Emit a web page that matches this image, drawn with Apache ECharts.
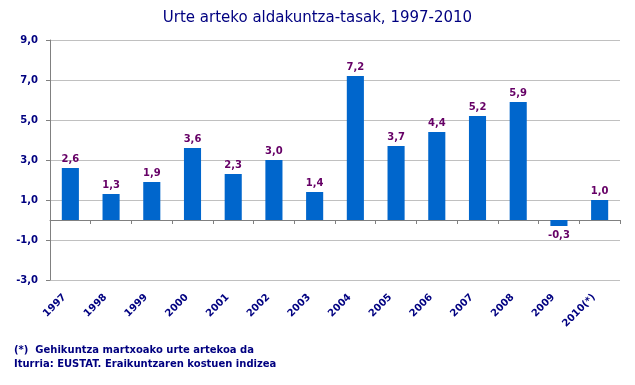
<!DOCTYPE html>
<html>
<head>
<meta charset="utf-8">
<script src="https://cdn.jsdelivr.net/npm/echarts@6/dist/echarts.min.js"></script>
<style>
html,body{margin:0;padding:0;background:#fff;}
#c{width:635px;height:385px;position:relative;}
.note{position:absolute;left:14px;font:bold 10px "DejaVu Sans",Verdana,sans-serif;color:#000080;}
</style>
</head>
<body>
<div id="c"></div>
<div class="note" style="top:344px;">(*)&nbsp; Gehikuntza martxoako urte artekoa da</div>
<div class="note" style="top:358px;">Iturria: EUSTAT. Eraikuntzaren kostuen indizea</div>
<script>
const categories = ['1997','1998','1999','2000','2001','2002','2003','2004','2005','2006','2007','2008','2009','2010(*)'];
const values = [2.6, 1.3, 1.9, 3.6, 2.3, 3.0, 1.4, 7.2, 3.7, 4.4, 5.2, 5.9, -0.3, 1.0];
const titleText = 'Urte arteko aldakuntza-tasak, 1997-2010';

const fmt = v => v.toFixed(1).replace('.', ',');
const chart = echarts.init(document.getElementById('c'), null, {renderer: 'canvas'});
const font = '"DejaVu Sans", Verdana, sans-serif';
chart.setOption({
  animation: false,
  title: {
    text: titleText, left: 'center', top: 6,
    textStyle: {fontFamily: font, fontSize: 15, fontWeight: 'normal', color: '#000080'}
  },
  grid: {left: 50, right: 15, top: 40, bottom: 105, containLabel: false},
  xAxis: [{
    type: 'category', data: categories, boundaryGap: true,
    axisLine: {onZero: true, lineStyle: {color: '#808080', width: 1}},
    axisTick: {show: true, interval: 0, length: 4, lineStyle: {color: '#808080'}},
    axisLabel: {show: false}
  }, {
    type: 'category', data: categories, position: 'bottom', boundaryGap: true,
    axisLine: {show: false}, axisTick: {show: false},
    axisLabel: {
      show: true, rotate: 45, interval: 0, margin: 10, padding: [0, 8, 0, 0],
      fontFamily: font, fontSize: 10, fontWeight: 'bold', color: '#000080'
    }
  }],
  yAxis: {
    type: 'value', min: -3, max: 9, interval: 2,
    axisLine: {show: true, lineStyle: {color: '#808080'}},
    axisTick: {show: true, length: 4, lineStyle: {color: '#808080'}},
    splitLine: {show: true, lineStyle: {color: '#c0c0c0', width: 1}},
    axisLabel: {
      formatter: v => fmt(v), margin: 12,
      fontFamily: font, fontSize: 10, fontWeight: 'bold', color: '#000080'
    }
  },
  series: [{
    type: 'bar', xAxisIndex: 0, barWidth: '42%',
    itemStyle: {color: '#0066CC'},
    data: values.map(v => ({
      value: v,
      label: {position: v < 0 ? 'bottom' : 'top'}
    })),
    label: {
      show: true, distance: 4,
      formatter: p => fmt(p.value),
      fontFamily: font, fontSize: 10, fontWeight: 'bold', color: '#660066'
    }
  }]
});
</script>
</body>
</html>
